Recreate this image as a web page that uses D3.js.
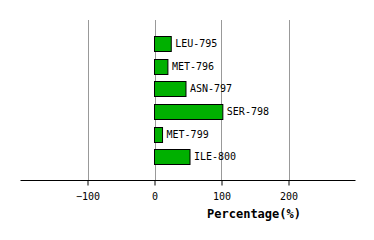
<!DOCTYPE html>
<html><head><meta charset="utf-8">
<script src="https://cdn.jsdelivr.net/npm/d3@7"></script>
<style>body{margin:0;background:#fff}</style>
</head><body><svg id="c" width="374" height="240"></svg>
<script>
const categories = ["LEU-795","MET-796","ASN-797","SER-798","MET-799","ILE-800"];
const values = [25, 20, 47, 102, 12, 53];
const tickValues = [-100, 0, 100, 200];
const axisTitle = "Percentage(%)";

const svg = d3.select("#c");
const x = d3.scaleLinear().domain([-200, 300]).range([20.5, 355.5]);
const y = d3.scaleBand().domain(categories).range([32, 168]).paddingInner(0.35).paddingOuter(0.175);
const font = "'DejaVu Sans Mono', monospace";

svg.append("g").selectAll("line").data(tickValues).join("line")
  .attr("x1", d => Math.round(x(d)) + 0.5).attr("x2", d => Math.round(x(d)) + 0.5)
  .attr("y1", 20).attr("y2", 180)
  .attr("stroke", "#999").attr("stroke-width", 1);

svg.append("g").selectAll("rect").data(values).join("rect")
  .attr("x", x(0)).attr("y", (d, i) => Math.round(y(categories[i])) + 0.5)
  .attr("width", d => x(d) - x(0)).attr("height", Math.round(y.bandwidth()))
  .attr("fill", "#00b000").attr("stroke", "#000").attr("stroke-width", 1);

svg.append("g").selectAll("text").data(values).join("text")
  .attr("x", d => x(d) + 4).attr("y", (d, i) => y(categories[i]) + y.bandwidth() / 2)
  .attr("dy", "0.35em").attr("font-family", font).attr("font-size", 10)
  .attr("fill", "#000").text((d, i) => categories[i]);

const ax = svg.append("g").attr("transform", "translate(0,180.5)")
  .call(d3.axisBottom(x).tickValues(tickValues).tickSize(5).tickPadding(7).tickFormat(d3.format("d")));
ax.select(".domain").attr("d", `M${x.range()[0]},0H${x.range()[1]}`).attr("stroke", "#000");
ax.selectAll(".tick line").attr("stroke", "#000");
ax.selectAll(".tick text").attr("font-family", font).attr("font-size", 10).attr("fill", "#000");

svg.append("text").attr("x", 254).attr("y", 218).attr("text-anchor", "middle")
  .attr("font-family", font).attr("font-size", 12).attr("font-weight", "bold").text(axisTitle);
</script></body></html>
